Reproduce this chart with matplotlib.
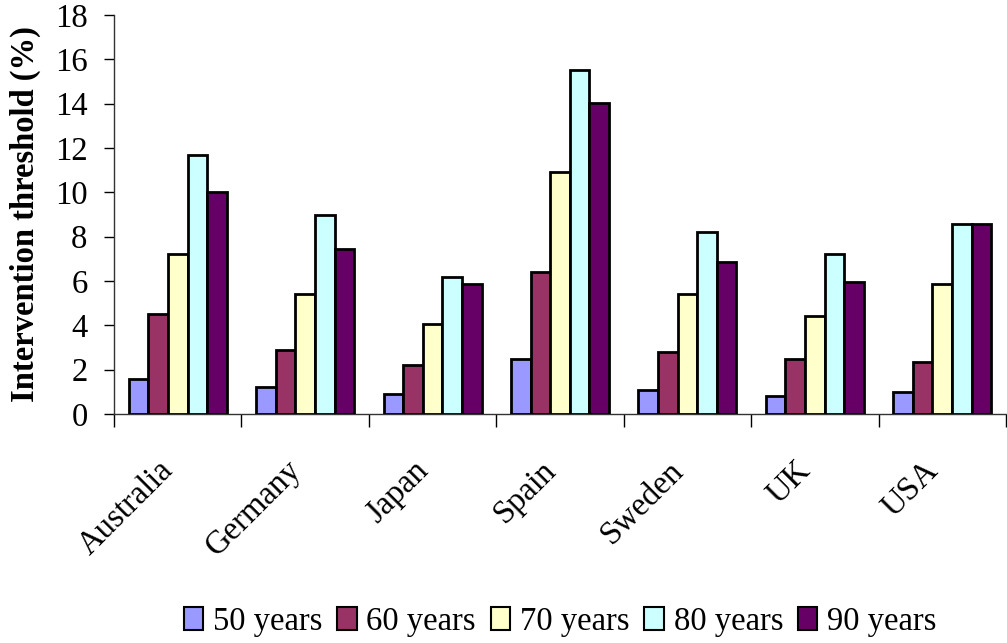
import numpy as np
import matplotlib
matplotlib.use("Agg")
import matplotlib.pyplot as plt

plt.rcParams['font.family'] = ['Liberation Serif', 'DejaVu Serif']

# Intervention thresholds by country and age
countries = ['Australia', 'Germany', 'Japan', 'Spain', 'Sweden', 'UK', 'USA']
age_groups = ['50 years', '60 years', '70 years', '80 years', '90 years']
age_50 = [1.6, 1.2, 0.9, 2.5, 1.1, 0.8, 1.0]
age_60 = [4.5, 2.9, 2.2, 6.4, 2.8, 2.5, 2.35]
age_70 = [7.2, 5.4, 4.05, 10.9, 5.4, 4.4, 5.85]
age_80 = [11.7, 9.0, 6.2, 15.5, 8.2, 7.2, 8.55]
age_90 = [10.0, 7.45, 5.85, 14.05, 6.85, 5.95, 8.55]
series = [age_50, age_60, age_70, age_80, age_90]
colors = ['#9999FF', '#993366', '#FFFFCC', '#CCFFFF', '#660066']

fs = 23.5

fig = plt.figure(figsize=(10.07, 6.43), dpi=100)
ax = fig.add_axes([114 / 1007, 1 - 414 / 643, 892 / 1007, 399 / 643])

n = len(age_groups)
bar_w = 1 / (n + 1.5)
x = np.arange(len(countries)) + 0.5
for i, (vals, col, lab) in enumerate(zip(series, colors, age_groups)):
    offs = (i - (n - 1) / 2) * bar_w
    ax.bar(x + offs, vals, width=bar_w, color=col, edgecolor='black',
           linewidth=2, label=lab, zorder=3)

ax.set_xlim(0, len(countries))
ax.set_ylim(0, 18)
ax.set_yticks(np.arange(0, 19, 2))
ax.tick_params(axis='y', labelsize=fs, length=7, width=1, direction='out', pad=12)
ax.set_xticks(np.arange(0, len(countries) + 1))
ax.set_xticklabels([])
ax.tick_params(axis='x', length=9, width=1, direction='out')

# rotated country names under each group
for xi, name in zip(x, countries):
    ax.text(xi - 0.07, -0.13, name, transform=ax.get_xaxis_transform(),
            rotation=45, rotation_mode='anchor', ha='right', va='center',
            fontsize=fs)

for side in ['top', 'right']:
    ax.spines[side].set_visible(False)
for side in ['left', 'bottom']:
    ax.spines[side].set_color('#333333')
    ax.spines[side].set_linewidth(1)

ax.set_ylabel('Intervention threshold (%)', fontsize=fs, fontweight='bold',
              labelpad=10)

leg = fig.legend(loc='center', bbox_to_anchor=(560 / 1007, 1 - 622 / 643),
                 ncol=5, frameon=False, fontsize=fs, handlelength=0.6,
                 handleheight=0.7, handletextpad=0.3, columnspacing=0.45)
for h in leg.legend_handles:
    h.set_linewidth(1.5)

fig.savefig('out.png', dpi=100)
